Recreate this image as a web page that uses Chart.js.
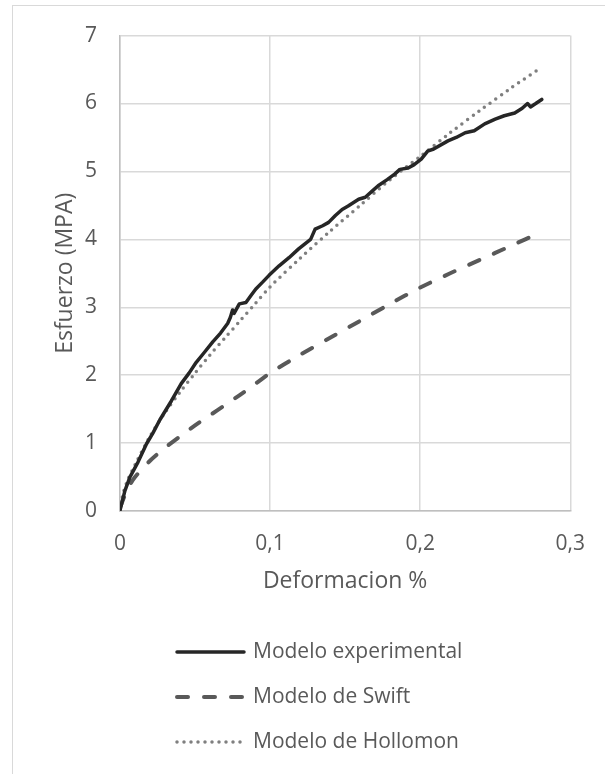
<!DOCTYPE html>
<html>
<head>
<meta charset="utf-8">
<script src="https://cdn.jsdelivr.net/npm/chart.js@4/dist/chart.umd.min.js"></script>
<style>
  html, body { margin: 0; padding: 0; background: #fff; }
  #wrap { width: 605px; height: 774px; }
</style>
</head>
<body>
<div id="wrap"><canvas id="esfuerzo"></canvas></div>
<script>
// datos
const expStrain = [0, 0.0033, 0.0066, 0.012, 0.0177, 0.022, 0.0265, 0.0342, 0.0408, 0.046, 0.0508, 0.056, 0.0618, 0.067, 0.0717, 0.0735, 0.075, 0.076, 0.0795, 0.0839, 0.0875, 0.0905, 0.095, 0.0993, 0.106, 0.1126, 0.119, 0.127, 0.130, 0.135, 0.139, 0.1435, 0.148, 0.152, 0.159, 0.1634, 0.168, 0.172, 0.178, 0.183, 0.1865, 0.192, 0.196, 0.2007, 0.205, 0.209, 0.2185, 0.224, 0.23, 0.236, 0.243, 0.25, 0.256, 0.263, 0.268, 0.2715, 0.2735, 0.277, 0.281];
const expStress = [0.01, 0.3, 0.5, 0.72, 0.99, 1.15, 1.34, 1.62, 1.875, 2.03, 2.19, 2.33, 2.49, 2.62, 2.76, 2.85, 2.96, 2.91, 3.05, 3.07, 3.18, 3.27, 3.37, 3.47, 3.61, 3.73, 3.86, 4.0, 4.15, 4.2, 4.25, 4.35, 4.44, 4.49, 4.59, 4.62, 4.71, 4.79, 4.88, 4.96, 5.03, 5.05, 5.1, 5.18, 5.3, 5.33, 5.45, 5.5, 5.57, 5.6, 5.7, 5.77, 5.82, 5.86, 5.93, 6.0, 5.95, 6.0, 6.06];

const swiftStrain = [0, 0.005, 0.01, 0.02, 0.03, 0.04, 0.05, 0.06, 0.07, 0.08, 0.09, 0.1, 0.12, 0.14, 0.16, 0.18, 0.2, 0.22, 0.24, 0.26, 0.28];
const swiftStress = [0.05, 0.32, 0.5, 0.74, 0.93, 1.1, 1.26, 1.41, 1.56, 1.71, 1.87, 2.03, 2.3, 2.55, 2.8, 3.05, 3.29, 3.5, 3.7, 3.9, 4.1];

const hollStrain = [0, 0.002, 0.005, 0.01, 0.02, 0.03, 0.04, 0.05, 0.06, 0.07, 0.08, 0.09, 0.1, 0.12, 0.14, 0.16, 0.18, 0.2, 0.22, 0.24, 0.26, 0.28];
const hollStress = [0, 0.25, 0.45, 0.68, 1.1, 1.45, 1.75, 2.03, 2.3, 2.55, 2.8, 3.05, 3.3, 3.72, 4.12, 4.5, 4.88, 5.22, 5.57, 5.9, 6.22, 6.52];

const seriesNames = ['Modelo experimental', 'Modelo de Swift', 'Modelo de Hollomon'];
const xTicks = [0, 0.1, 0.2, 0.3];
const yTicks = [0, 1, 2, 3, 4, 5, 6, 7];

function pares(xs, ys) {
  return xs.map(function (x, i) { return { x: x, y: ys[i] }; });
}

const FUENTE = "'Open Sans', sans-serif";
const GRIS = '#595959';

// marco exterior del grafico
const marco = {
  id: 'marco',
  beforeDraw(chart) {
    const c = chart.ctx;
    c.save();
    c.strokeStyle = '#d9d9d9';
    c.lineWidth = 1;
    c.strokeRect(12.5, 5.5, 800, 900);
    c.restore();
  }
};

// leyenda vertical debajo del eje
const leyenda = {
  id: 'leyenda',
  afterDraw(chart) {
    const c = chart.ctx;
    const ys = [652, 697, 742];
    chart.data.datasets.forEach(function (ds, i) {
      c.save();
      c.strokeStyle = ds.borderColor;
      c.lineWidth = ds.borderWidth;
      c.lineCap = ds.borderCapStyle || 'butt';
      c.setLineDash(ds.borderDash || []);
      c.beginPath();
      c.moveTo(177, ys[i]);
      c.lineTo(244, ys[i]);
      c.stroke();
      c.setLineDash([]);
      c.fillStyle = GRIS;
      c.font = '21px ' + FUENTE;
      c.textAlign = 'left';
      c.textBaseline = 'middle';
      c.fillText(ds.label, 253, ys[i]);
      c.restore();
    });
  }
};

const ctx = document.getElementById('esfuerzo').getContext('2d');
const grafico = new Chart(ctx, {
  type: 'scatter',
  plugins: [marco, leyenda],
  data: {
    datasets: [
      {
        label: seriesNames[0],
        data: pares(expStrain, expStress),
        showLine: true,
        borderColor: '#262626',
        borderWidth: 3.5,
        borderCapStyle: 'round',
        borderJoinStyle: 'round',
        pointRadius: 0,
        tension: 0
      },
      {
        label: seriesNames[1],
        data: pares(swiftStrain, swiftStress),
        showLine: true,
        borderColor: '#595959',
        borderWidth: 4,
        borderDash: [11, 16],
        borderCapStyle: 'round',
        pointRadius: 0,
        tension: 0.3
      },
      {
        label: seriesNames[2],
        data: pares(hollStrain, hollStress),
        showLine: true,
        borderColor: '#7f7f7f',
        borderWidth: 3.5,
        borderDash: [0, 7],
        borderCapStyle: 'round',
        pointRadius: 0,
        tension: 0.3
      }
    ]
  },
  options: {
    responsive: true,
    maintainAspectRatio: false,
    animation: false,
    layout: { padding: { left: 12, right: 32, top: 34, bottom: 173 } },
    scales: {
      x: {
        type: 'linear',
        min: 0,
        max: 0.3,
        afterBuildTicks: function (scale) {
          scale.ticks = xTicks.map(function (v) { return { value: v }; });
        },
        afterFit: function (scale) { scale.height = 90; },
        grid: { color: '#d9d9d9', lineWidth: 1.5, drawTicks: false },
        border: { color: '#bfbfbf', width: 1.5 },
        ticks: {
          padding: 20,
          color: GRIS,
          font: { family: FUENTE, size: 21 },
          callback: function (v) { return String(Math.round(v * 10) / 10).replace('.', ','); }
        },
        title: {
          display: true,
          text: 'Deformacion %',
          color: GRIS,
          font: { family: FUENTE, size: 23 },
          padding: { top: 2, bottom: 6 }
        }
      },
      y: {
        type: 'linear',
        min: 0,
        max: 7,
        afterBuildTicks: function (scale) {
          scale.ticks = yTicks.map(function (v) { return { value: v }; });
        },
        afterFit: function (scale) { scale.width = 108; },
        grid: { color: '#d9d9d9', lineWidth: 1.5, drawTicks: false },
        border: { color: '#bfbfbf', width: 1.5 },
        ticks: {
          padding: 23,
          color: GRIS,
          font: { family: FUENTE, size: 21 }
        },
        title: {
          display: true,
          text: 'Esfuerzo (MPA)',
          color: GRIS,
          font: { family: FUENTE, size: 23 },
          padding: { top: 40, bottom: 0 }
        }
      }
    },
    plugins: {
      legend: { display: false },
      tooltip: { enabled: false }
    }
  }
});
</script>
</body>
</html>
